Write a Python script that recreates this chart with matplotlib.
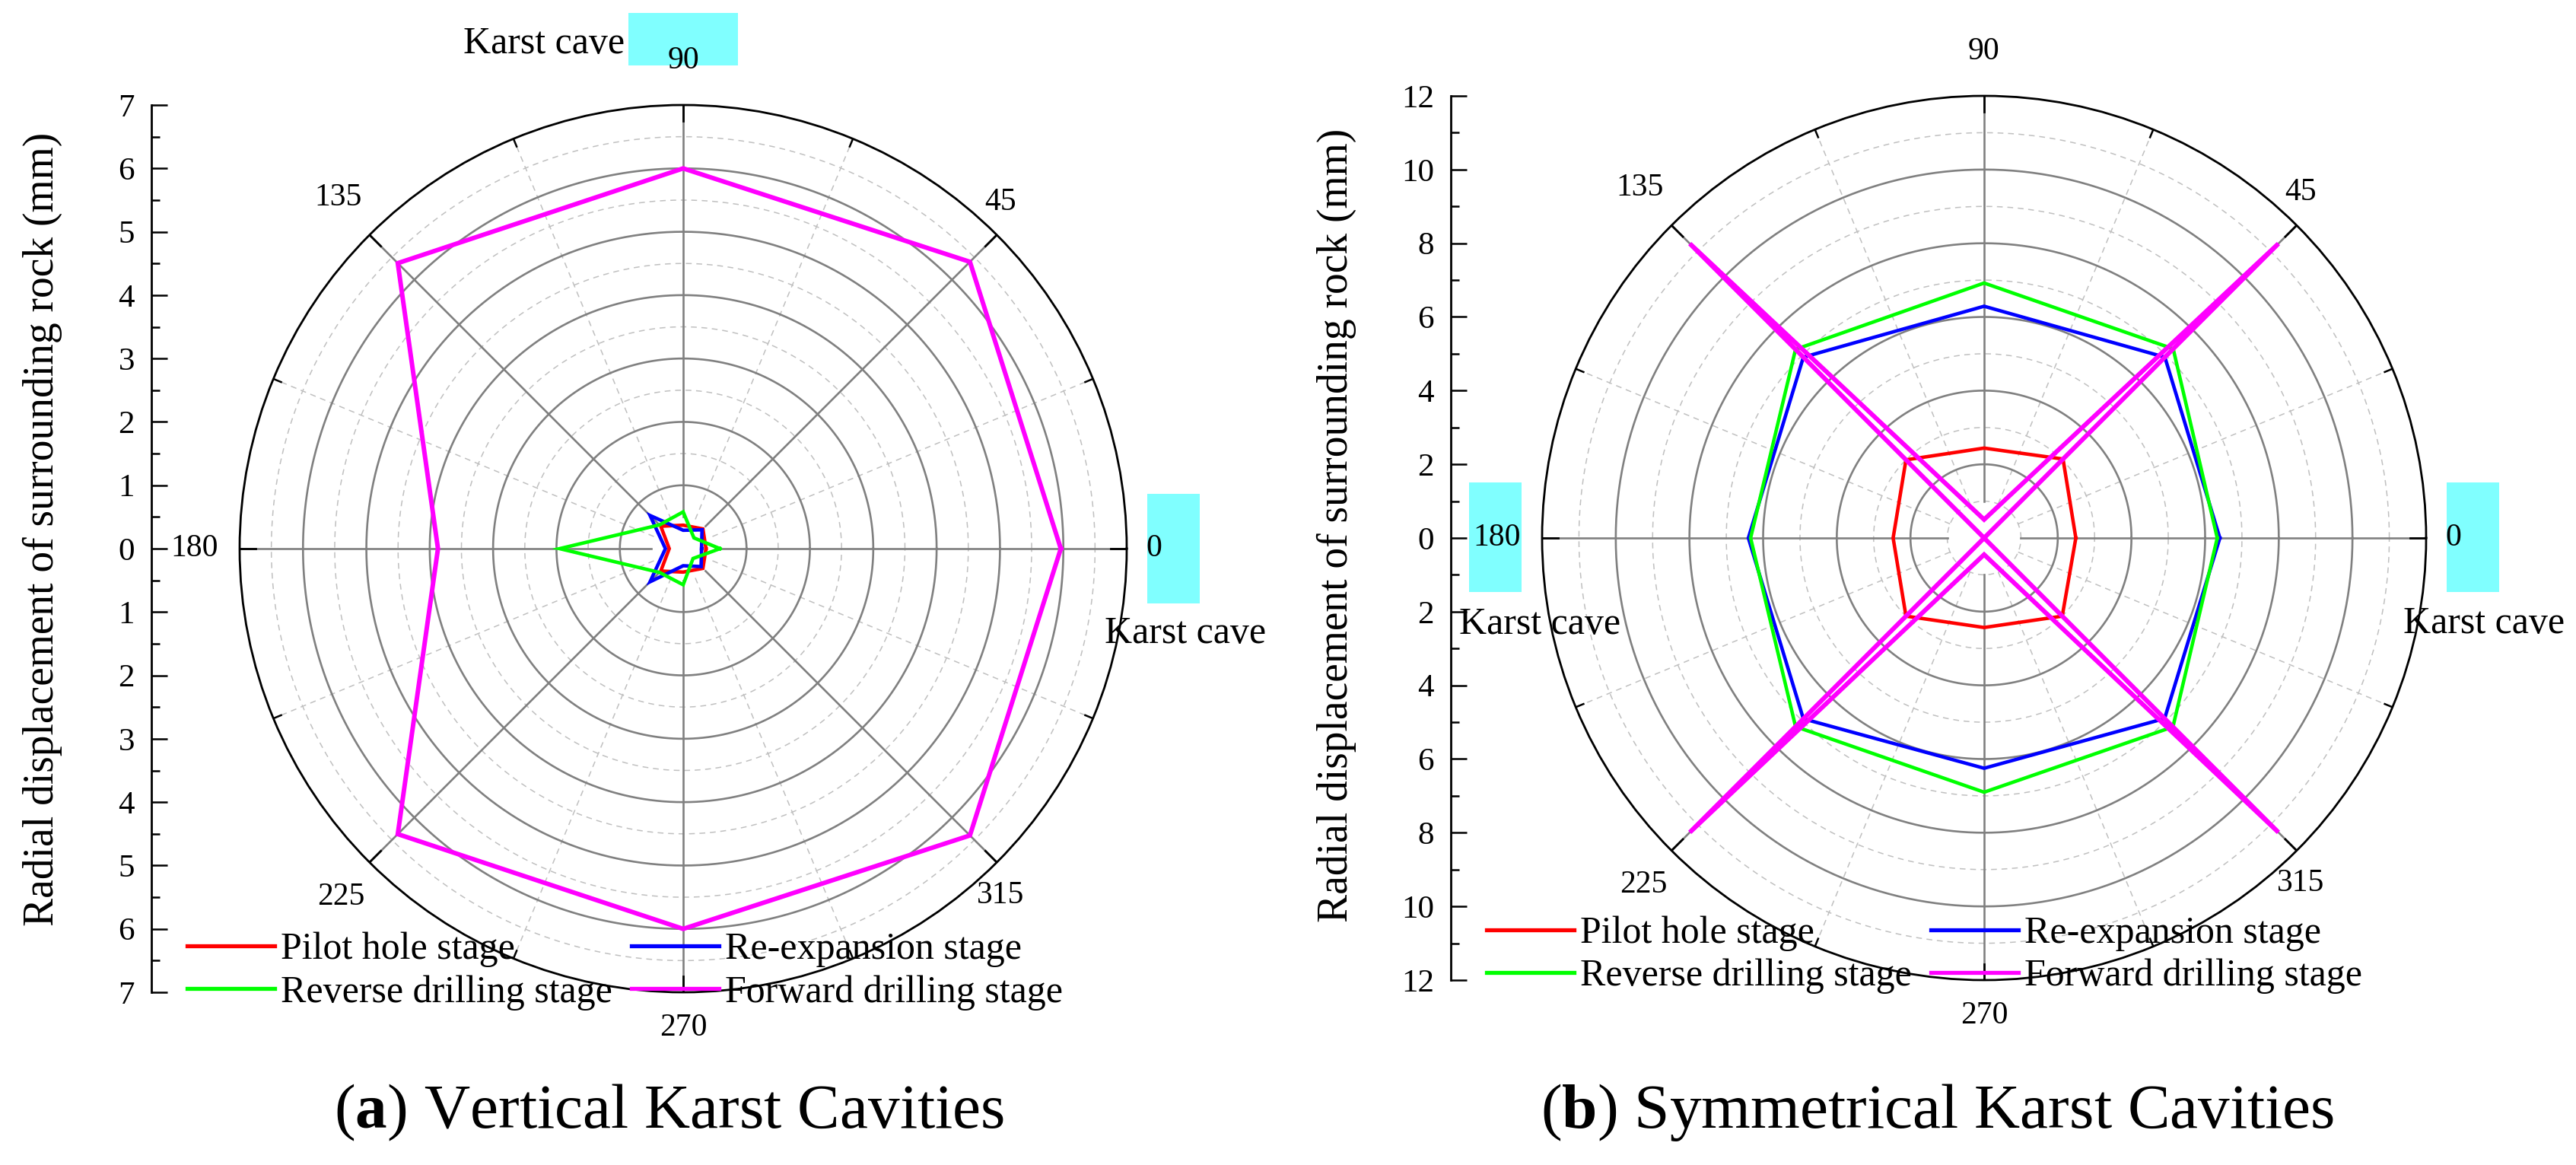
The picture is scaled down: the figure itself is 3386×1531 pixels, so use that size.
import numpy as np
import matplotlib
matplotlib.use("Agg")
import matplotlib.pyplot as plt
from matplotlib.patches import Rectangle
from matplotlib.lines import Line2D

plt.rcParams['font.family'] = ['Liberation Serif', 'DejaVu Serif']
plt.rcParams['mathtext.fontset'] = 'custom'
plt.rcParams['mathtext.rm'] = 'Liberation Serif'
plt.rcParams['mathtext.bf'] = 'Liberation Serif:bold'

# ---------------- data ----------------
angles_deg = [0, 45, 90, 135, 180, 225, 270, 315]
angle_labels = ["0", "45", "90", "135", "180", "225", "270", "315"]
stages = ["Pilot hole stage", "Re-expansion stage",
          "Reverse drilling stage", "Forward drilling stage"]
stage_colors = ["#FF0000", "#0000FF", "#00FF00", "#FF00FF"]

# (a) Vertical karst cavities
vert_pilot = [0.36, 0.44, 0.37, 0.50, 0.22, 0.50, 0.37, 0.44]
vert_reexp = [0.29, 0.42, 0.29, 0.74, 0.28, 0.74, 0.27, 0.40]
vert_reverse = [0.58, 0.24, 0.58, 0.53, 1.95, 0.53, 0.57, 0.22]
vert_forward = [5.96, 6.40, 6.00, 6.37, 3.87, 6.37, 6.00, 6.40]

# (b) Symmetrical karst cavities
sym_pilot = [2.49, 3.03, 2.44, 3.00, 2.47, 3.00, 2.43, 3.00]
sym_reexp = [6.40, 6.94, 6.29, 6.94, 6.40, 6.94, 6.25, 6.93]
sym_reverse = [6.33, 7.26, 6.92, 7.24, 6.34, 7.24, 6.90, 7.25]
sym_forward = [0.0, 11.3, 0.5, 11.3, 0.0, 11.3, 0.45, 11.3]

ylabel_text = "Radial displacement of surrounding rock (mm)"
cave_text = "Karst cave"

# ---------------- layout helpers ----------------
W, H = 3386, 1531
fig = plt.figure(figsize=(W / 100, H / 100), dpi=100)
fig.patch.set_facecolor("white")


def fx(x):
    return x / W


def fy(y):
    return 1 - y / H


GRAY = "#808080"
LGRAY = "#C0C0C0"
CYAN = "#80FFFF"

# label placement (angle offset in deg, radius factor)
label_pos = {45: (2.5, 1.06), 90: (0, 1.10), 135: (-0.5, 1.11),
             225: (0.5, 1.10), 270: (0, 1.08), 315: (-2.5, 1.06)}


def polar_panel(cx, cy, R, rmax, major_r, minor_r, r0, series):
    ax = fig.add_axes([fx(cx - R), fy(cy + R), 2 * R / W, 2 * R / H],
                      projection="polar")
    ax.set_ylim(0, rmax)
    ax.set_xticks([])
    ax.set_yticks([])
    ax.grid(False)
    ax.patch.set_facecolor("none")
    ax.spines["polar"].set_color("black")
    ax.spines["polar"].set_linewidth(2.0)
    th = np.linspace(0, 2 * np.pi, 721)
    for r in minor_r:
        ax.plot(th, np.full_like(th, r), color=LGRAY, lw=1.1,
                ls=(0, (5, 4)), zorder=1)
    for r in major_r:
        ax.plot(th, np.full_like(th, r), color=GRAY, lw=1.9, zorder=1.1)
    for a in np.arange(0, 360, 45):
        t = np.deg2rad(a)
        ax.plot([t, t], [r0, rmax], color=GRAY, lw=1.9, zorder=1.1)
        ax.plot([t, t], [rmax * (1 - 21 / R), rmax], color="black", lw=2.0,
                zorder=1.2)
    for a in np.arange(22.5, 360, 45):
        t = np.deg2rad(a)
        ax.plot([t, t], [r0, rmax], color=LGRAY, lw=1.1, ls=(0, (5, 4)),
                zorder=1)
        ax.plot([t, t], [rmax * (1 - 11 / R), rmax], color="black", lw=1.8,
                zorder=1.2)
    theta = np.deg2rad(angles_deg + [360])
    for vals, col, lw in series:
        ax.plot(theta, list(vals) + [vals[0]], color=col, lw=lw, zorder=3,
                solid_joinstyle="miter", clip_on=False)
    # angular labels
    for a, lab in zip(angles_deg, angle_labels):
        if a == 0:
            ax.text(0, rmax * (1 + 25 / R), lab, ha="left", va="center",
                    fontsize=30, clip_on=False, zorder=5)
        elif a == 180:
            ax.text(np.pi, rmax * (1 + 28 / R), lab, ha="right", va="center",
                    fontsize=30, clip_on=False, zorder=5)
        else:
            da, rf = label_pos[a]
            ax.text(np.deg2rad(a + da), rmax * rf, lab, ha="center",
                    va="center", fontsize=30, clip_on=False, zorder=5)
    return ax


def side_axis(x, cy, R, lim, major, minor):
    a = fig.add_axes([fx(x), fy(cy + R), 1 / W, 2 * R / H])
    a.set_ylim(-lim, lim)
    a.set_xlim(0, 1)
    for s in ["top", "right", "bottom"]:
        a.spines[s].set_visible(False)
    a.spines["left"].set_linewidth(2.0)
    a.patch.set_visible(False)
    a.set_xticks([])
    a.set_yticks(major)
    a.set_yticklabels([str(abs(v)) for v in major])
    a.set_yticks(minor, minor=True)
    a.tick_params(axis="y", which="major", direction="in", length=15,
                  width=1.8, labelsize=31, pad=16)
    a.tick_params(axis="y", which="minor", direction="in", length=8,
                  width=1.8)
    return a


LW = 3.3
LWM = 4.3

# ---------------- panel (a) ----------------
cxA, cyA, RA = 898, 721, 583
polar_panel(cxA, cyA, RA, 7.0,
            major_r=np.arange(1, 7, 1), minor_r=np.arange(1.5, 7, 1),
            r0=0.5,
            series=[(vert_pilot, stage_colors[0], LW),
                    (vert_reexp, stage_colors[1], LW),
                    (vert_reverse, stage_colors[2], LW),
                    (vert_forward, stage_colors[3], LWM)])
side_axis(199, cyA, RA, 7, list(range(-7, 8)), list(np.arange(-6.5, 7, 1.0)))

# ---------------- panel (b) ----------------
cxB, cyB, RB = 2608, 707, 581
polar_panel(cxB, cyB, RB, 12.0,
            major_r=np.arange(2, 12, 2), minor_r=np.arange(1, 12, 2),
            r0=1.0,
            series=[(sym_pilot, stage_colors[0], LW),
                    (sym_reexp, stage_colors[1], LW),
                    (sym_reverse, stage_colors[2], LW),
                    (sym_forward, stage_colors[3], LWM)])
side_axis(1907, cyB, RB, 12, list(range(-12, 13, 2)), list(range(-11, 12, 2)))

# ---------------- y labels ----------------
fig.text(fx(56), fy(695), ylabel_text, rotation=90, ha="center", va="center",
         fontsize=40)
fig.text(fx(1757), fy(690), ylabel_text, rotation=90, ha="center",
         va="center", fontsize=40)

# ---------------- cyan boxes and "Karst cave" ----------------
for (x0, y0, x1, y1) in [(826, 17, 970, 86), (1508, 649, 1577, 793),
                         (1931, 634, 2000, 778), (3216, 634, 3285, 778)]:
    fig.add_artist(Rectangle((fx(x0), fy(y1)), (x1 - x0) / W, (y1 - y0) / H,
                             transform=fig.transFigure, facecolor=CYAN,
                             edgecolor="none", zorder=-1))
fig.text(fx(821), fy(58), cave_text, ha="right", va="center", fontsize=36)
fig.text(fx(1452), fy(833), cave_text, ha="left", va="center", fontsize=36)
fig.text(fx(1918), fy(821), cave_text, ha="left", va="center", fontsize=36)
fig.text(fx(3159), fy(820), cave_text, ha="left", va="center", fontsize=36)

# ---------------- legends ----------------
handles = [Line2D([], [], color=c, lw=3.8) for c in stage_colors]
order = [0, 2, 1, 3]
for (lx, ly) in [(246, 1276), (1954, 1255)]:
    fig.legend([handles[i] for i in order], [stages[i] for i in order],
               loc="center left", bbox_to_anchor=(fx(lx), fy(ly)), ncol=2,
               frameon=False, fontsize=36, handlelength=2.3,
               handletextpad=0.16, columnspacing=0.5, labelspacing=0.2,
               borderpad=0, borderaxespad=0)

# ---------------- captions ----------------
fig.text(fx(880), fy(1462), r"($\mathbf{a}$) Vertical Karst Cavities",
         ha="center", va="center", fontsize=60)
fig.text(fx(2547), fy(1462), r"($\mathbf{b}$) Symmetrical Karst Cavities",
         ha="center", va="center", fontsize=60)

fig.savefig("out.png", dpi=100)
